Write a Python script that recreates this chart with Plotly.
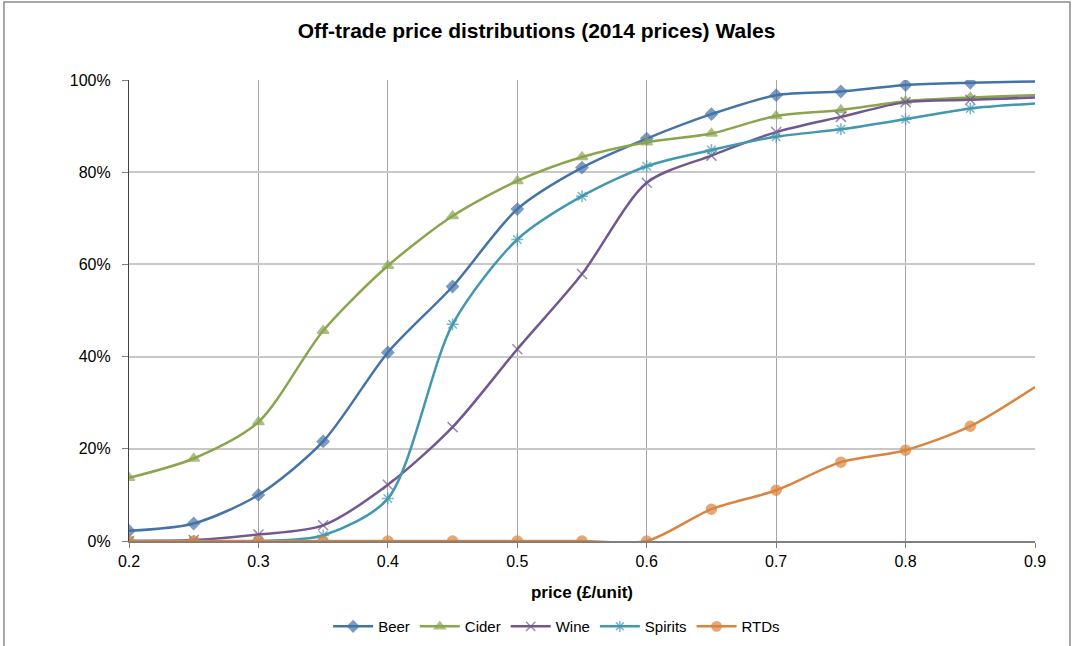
import plotly.graph_objects as go

price = [0.2, 0.25, 0.3, 0.35, 0.4, 0.45, 0.5, 0.55, 0.6, 0.65, 0.7, 0.75, 0.8, 0.85, 0.9]
beer = [0.022, 0.038, 0.100, 0.216, 0.409, 0.552, 0.720, 0.810, 0.873, 0.926, 0.967, 0.975, 0.989, 0.994, 0.997]
cider = [0.137, 0.179, 0.258, 0.456, 0.597, 0.705, 0.781, 0.833, 0.865, 0.884, 0.922, 0.935, 0.954, 0.962, 0.967]
wine = [0.0, 0.002, 0.014, 0.034, 0.122, 0.247, 0.416, 0.579, 0.777, 0.836, 0.887, 0.920, 0.952, 0.957, 0.962]
spirits = [0.0, 0.0, 0.0, 0.012, 0.092, 0.470, 0.654, 0.748, 0.813, 0.848, 0.877, 0.893, 0.915, 0.938, 0.949]
rtds = [0.0, 0.0, 0.0, 0.0, 0.0, 0.0, 0.0, 0.0, 0.0, 0.069, 0.110, 0.171, 0.197, 0.249, 0.334]

series = [
    ("Beer", beer, "#4572A7", "diamond", 9),
    ("Cider", cider, "#89A54E", "triangle-up", 10),
    ("Wine", wine, "#71588F", "x-thin-open", 10),
    ("Spirits", spirits, "#4198AF", "asterisk-open", 10),
    ("RTDs", rtds, "#DB843D", "circle", 10),
]

fig = go.Figure()
for name, vals, color, sym, size in series:
    sizes = [size] * (len(price) - 1) + [0]
    fig.add_trace(go.Scatter(
        x=price, y=vals, name=name, mode="lines+markers",
        line=dict(color=color, width=2.5, shape="spline", smoothing=0.8),
        marker=dict(symbol=sym, size=sizes, color=color,
                    line=dict(color=color, width=1.5)),
    ))

fig.update_layout(
    width=1073, height=646,
    paper_bgcolor="white", plot_bgcolor="white",
    margin=dict(l=129, r=38, t=80, b=105, autoexpand=False),
    font=dict(family="Liberation Sans, Arial, sans-serif", size=16, color="#000000"),
    title=dict(text="<b>Off-trade price distributions (2014 prices) Wales</b>",
               x=0.5, xanchor="center", y=0.953, yanchor="middle",
               font=dict(size=21, color="#000000")),
    showlegend=True,
    legend=dict(orientation="h", x=0.472, xanchor="center",
                yref="container", y=0.03, yanchor="middle",
                font=dict(size=15), itemwidth=40, traceorder="normal"),
    xaxis=dict(range=[0.2, 0.9], dtick=0.1, tick0=0.2, tickformat=".1f",
               showgrid=True, gridcolor="#A6A6A6", gridwidth=1,
               showline=True, linecolor="#7F7F7F", linewidth=2,
               ticks="outside", ticklen=5, tickcolor="#7F7F7F",
               tickfont=dict(size=16),
               zeroline=False, mirror=False, automargin=False,
               title=dict(text="<b>price (£/unit)</b>", font=dict(size=17), standoff=17)),
    yaxis=dict(range=[0, 1], dtick=0.2, tickformat=".0%",
               showgrid=True, gridcolor="#C8C8C8", gridwidth=1.5,
               showline=True, linecolor="#404040", linewidth=1.2,
               ticks="outside", ticklen=6, tickcolor="#7F7F7F",
               tickfont=dict(size=16), ticklabelstandoff=8,
               zeroline=False, automargin=False),
    shapes=[
        dict(type="rect", xref="paper", yref="paper",
             x0=-0.138, x1=1.0386, y0=-0.26, y1=1.169,
             line=dict(color="#8C8C8C", width=1.5), layer="below"),
    ],
)

fig.write_html("out.html", config={"displayModeBar": False},
               post_script="document.body.style.margin='0';")
